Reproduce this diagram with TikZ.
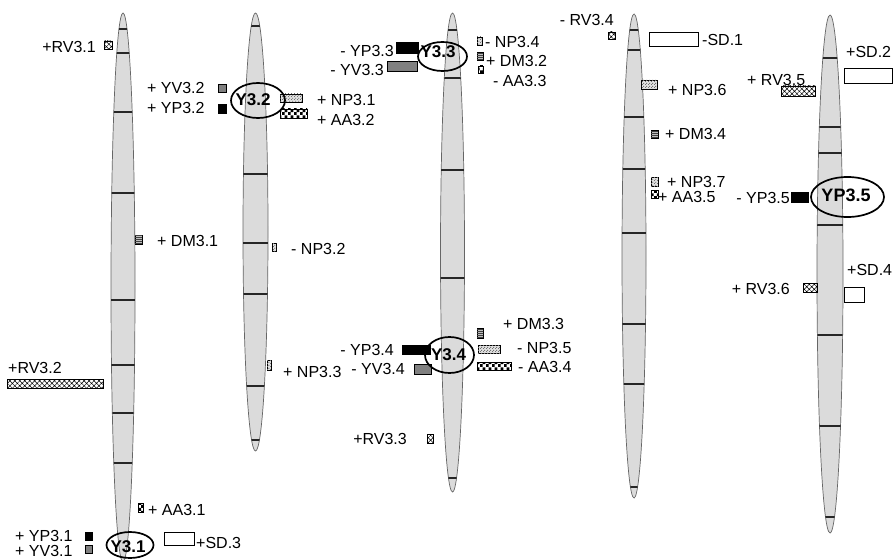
\documentclass[tikz,border=0pt]{standalone}
\usepackage{fontspec}
\setmainfont{Liberation Sans}
\usetikzlibrary{patterns,patterns.meta}
\pgfdeclarepatternformonly{aachecks}{\pgfpointorigin}{\pgfpoint{6pt}{6pt}}{\pgfpoint{6pt}{6pt}}{%
  \pgfpathrectangle{\pgfpointorigin}{\pgfpoint{3pt}{3pt}}%
  \pgfpathrectangle{\pgfpoint{3pt}{3pt}}{\pgfpoint{3pt}{3pt}}%
  \pgfusepath{fill}}
\pgfdeclarepatternformonly{npdots}{\pgfpointorigin}{\pgfpoint{3pt}{3pt}}{\pgfpoint{3pt}{3pt}}{%
  \pgfpathrectangle{\pgfpointorigin}{\pgfpoint{1.1pt}{1.1pt}}%
  \pgfpathrectangle{\pgfpoint{1.5pt}{1.5pt}}{\pgfpoint{1.1pt}{1.1pt}}%
  \pgfusepath{fill}}
\tikzset{
  chrom/.style={draw=black!60, fill=black!14, line width=0.7pt},
  band/.style={draw=black!85, line width=1.4pt},
  lbl/.style={font=\fontsize{16}{18}\selectfont, inner sep=0pt},
  loc/.style={font=\bfseries\fontsize{17}{19}\selectfont, inner sep=0pt},
  ring/.style={draw=black, line width=1.7pt},
  yp/.style={draw=black, fill=black, line width=0.6pt},
  yv/.style={draw=black, fill=black!50, line width=0.6pt},
  sd/.style={draw=black, fill=white, line width=0.8pt},
  rv/.style={draw=black, line width=0.6pt, pattern={Hatch[angle=45,distance=3.5pt,line width=0.5pt]}},
  np/.style={draw=black, line width=0.6pt, fill=black!12,
    postaction={pattern=npdots, pattern color=black!55}},
  aa/.style={draw=black, line width=0.6pt, pattern=aachecks},
  dm/.style={draw=black, line width=0.6pt, fill=black!25,
    postaction={pattern={Lines[angle=0,distance=2pt,line width=0.8pt]}, pattern color=black!75}},
}

\begin{document}
\begin{tikzpicture}[x=1pt, y=-1pt]
\useasboundingbox (0,0) rectangle (893,559);
\fill[white] (0,0) rectangle (893,559);

% chromosome 3.1
\draw[chrom] (123,287.5) ellipse [x radius=12pt, y radius=274.5pt];
\begin{scope}
  \clip (123,287.5) ellipse [x radius=12pt, y radius=274.5pt];
  \foreach \yb in {29,53,112,193,300,365,413,463}
    \draw[band] (110,\yb) -- (136,\yb);
\end{scope}

% chromosome 3.2
\draw[chrom] (255.5,232) ellipse [x radius=12.5pt, y radius=219pt];
\begin{scope}
  \clip (255.5,232) ellipse [x radius=12.5pt, y radius=219pt];
  \foreach \yb in {26,174,243,294,386,440}
    \draw[band] (242,\yb) -- (269,\yb);
\end{scope}

% chromosome 3.3
\draw[chrom] (452.5,252.5) ellipse [x radius=12pt, y radius=239.5pt];
\begin{scope}
  \clip (452.5,252.5) ellipse [x radius=12pt, y radius=239.5pt];
  \foreach \yb in {30,78,170,278,478}
    \draw[band] (439,\yb) -- (466,\yb);
\end{scope}

% chromosome 3.4
\draw[chrom] (634,256) ellipse [x radius=12pt, y radius=242pt];
\begin{scope}
  \clip (634,256) ellipse [x radius=12pt, y radius=242pt];
  \foreach \yb in {30,50,117,169,233,324,384,487}
    \draw[band] (621,\yb) -- (647,\yb);
\end{scope}

% chromosome 3.5
\draw[chrom] (830,274) ellipse [x radius=13pt, y radius=259pt];
\begin{scope}
  \clip (830,274) ellipse [x radius=13pt, y radius=259pt];
  \foreach \yb in {58,127,153,225,335,426,517}
    \draw[band] (816,\yb) -- (844,\yb);
\end{scope}

% markers, chromosome 3.1
\path[rv] (104,41) rectangle (112,49);
\node[lbl, anchor=east] (rv31) at (96,47) {+RV3.1};
\path[yv] (218,84) rectangle (226,92);
\node[lbl, anchor=west] (yv32) at (147,88) {+ YV3.2};
\path[yp] (218,104) rectangle (226,113);
\node[lbl, anchor=west] (yp32) at (147,108) {+ YP3.2};
\path[dm] (135,235) rectangle (142,244);
\node[lbl, anchor=west] (dm31) at (157,241) {+ DM3.1};
\path[rv] (7,379) rectangle (103,388);
\node[lbl, anchor=west] (rv32) at (8,368) {+RV3.2};
\path[aa] (138,503) rectangle (143,512);
\node[lbl, anchor=west] (aa31) at (148,510) {+ AA3.1};
\path[yp] (85,532) rectangle (92,540);
\node[lbl, anchor=west] (yp31) at (15,536) {+ YP3.1};
\path[yv] (85,545) rectangle (92,553);
\node[lbl, anchor=west] (yv31) at (15,551) {+ YV3.1};
\path[sd] (164,532) rectangle (194,545);
\node[lbl, anchor=west] (sd3) at (196,543) {+SD.3};
\draw[ring] (130,545) ellipse [x radius=23.5pt, y radius=13pt];
\node[loc] (y31) at (128,547) {Y3.1};

% markers, chromosome 3.2
\path[np] (280,94) rectangle (302,102);
\node[lbl, anchor=west] (np31) at (317,100) {+ NP3.1};
\path[aa] (280,109) rectangle (307,118);
\node[lbl, anchor=west] (aa32) at (317,120) {+ AA3.2};
\path[np] (272,243) rectangle (276,251);
\node[lbl, anchor=west] (np32) at (291,249) {- NP3.2};
\path[np] (267,360) rectangle (271,370);
\node[lbl, anchor=west] (np33) at (283,372) {+ NP3.3};
\draw[ring] (258,100.5) ellipse [x radius=27pt, y radius=17.5pt];
\node[loc] (y32) at (253,100) {Y3.2};

% markers, chromosome 3.3
\path[yp] (396,42) rectangle (418,53);
\node[lbl, anchor=east] (yp33) at (394,51) {- YP3.3};
\path[yv] (387,61) rectangle (417,71);
\node[lbl, anchor=east] (yv33) at (384,70) {- YV3.3};
\path[np] (477,37) rectangle (482,45);
\node[lbl, anchor=west] (np34) at (485,42) {- NP3.4};
\path[dm] (477,52) rectangle (483,60);
\node[lbl, anchor=west] (dm32) at (486,61) {+ DM3.2};
\path[aa] (478,66) rectangle (483,73);
\node[lbl, anchor=west] (aa33) at (493,81) {- AA3.3};
\draw[ring] (442.5,56.5) ellipse [x radius=24.5pt, y radius=14.5pt];
\node[loc] (y33) at (438,52) {Y3.3};

\path[dm] (477,328) rectangle (483,338);
\node[lbl, anchor=west] (dm33) at (503,324) {+ DM3.3};
\path[np] (478,345) rectangle (500,353);
\node[lbl, anchor=west] (np35) at (517,348) {- NP3.5};
\path[aa] (477,362) rectangle (511,370);
\node[lbl, anchor=west] (aa34) at (518,367) {- AA3.4};
\path[yp] (402,345) rectangle (430,354);
\node[lbl, anchor=east] (yp34) at (394,350) {- YP3.4};
\path[yv] (414,364) rectangle (431,374);
\node[lbl, anchor=east] (yv34) at (405,369) {- YV3.4};
\draw[ring] (449.5,355) ellipse [x radius=24.5pt, y radius=18pt];
\node[loc] (y34) at (448.5,355) {Y3.4};
\path[rv] (427,434) rectangle (433,443);
\node[lbl, anchor=east] (rv33) at (407,439) {+RV3.3};

% markers, chromosome 3.4
\path[rv] (608,32) rectangle (615,39);
\node[lbl, anchor=east] (rv34) at (614,20) {- RV3.4};
\path[sd] (649,32) rectangle (698,46);
\node[lbl, anchor=west] (sd1) at (702,40) {-SD.1};
\path[np] (641,80) rectangle (657,89);
\node[lbl, anchor=west] (np36) at (668,90) {+ NP3.6};
\path[dm] (651,130) rectangle (658,138);
\node[lbl, anchor=west] (dm34) at (665,134) {+ DM3.4};
\path[np] (651,177) rectangle (658,186);
\node[lbl, anchor=west] (np37) at (667,182) {+ NP3.7};
\path[aa] (651,190) rectangle (658,198);
\node[lbl, anchor=west] (aa35) at (658,197) {+ AA3.5};

% markers, chromosome 3.5
\path[rv] (781,86) rectangle (815,96);
\node[lbl, anchor=west] (rv35) at (747,80) {+ RV3.5};
\path[sd] (844,68) rectangle (892,83);
\node[lbl, anchor=west] (sd2) at (846,52) {+SD.2};
\path[yp] (791,192) rectangle (808,202);
\node[lbl, anchor=east] (yp35) at (790,198) {- YP3.5};
\draw[ring] (847.5,197) ellipse [x radius=36.5pt, y radius=20pt];
\node[loc, font=\bfseries\fontsize{18}{20}\selectfont] (yp35c) at (846,195) {YP3.5};
\path[sd] (844,287) rectangle (864,302);
\node[lbl, anchor=west] (sd4) at (847,270) {+SD.4};
\path[rv] (803,283) rectangle (817,292);
\node[lbl, anchor=east] (rv36) at (790,289) {+ RV3.6};

\end{tikzpicture}
\end{document}
